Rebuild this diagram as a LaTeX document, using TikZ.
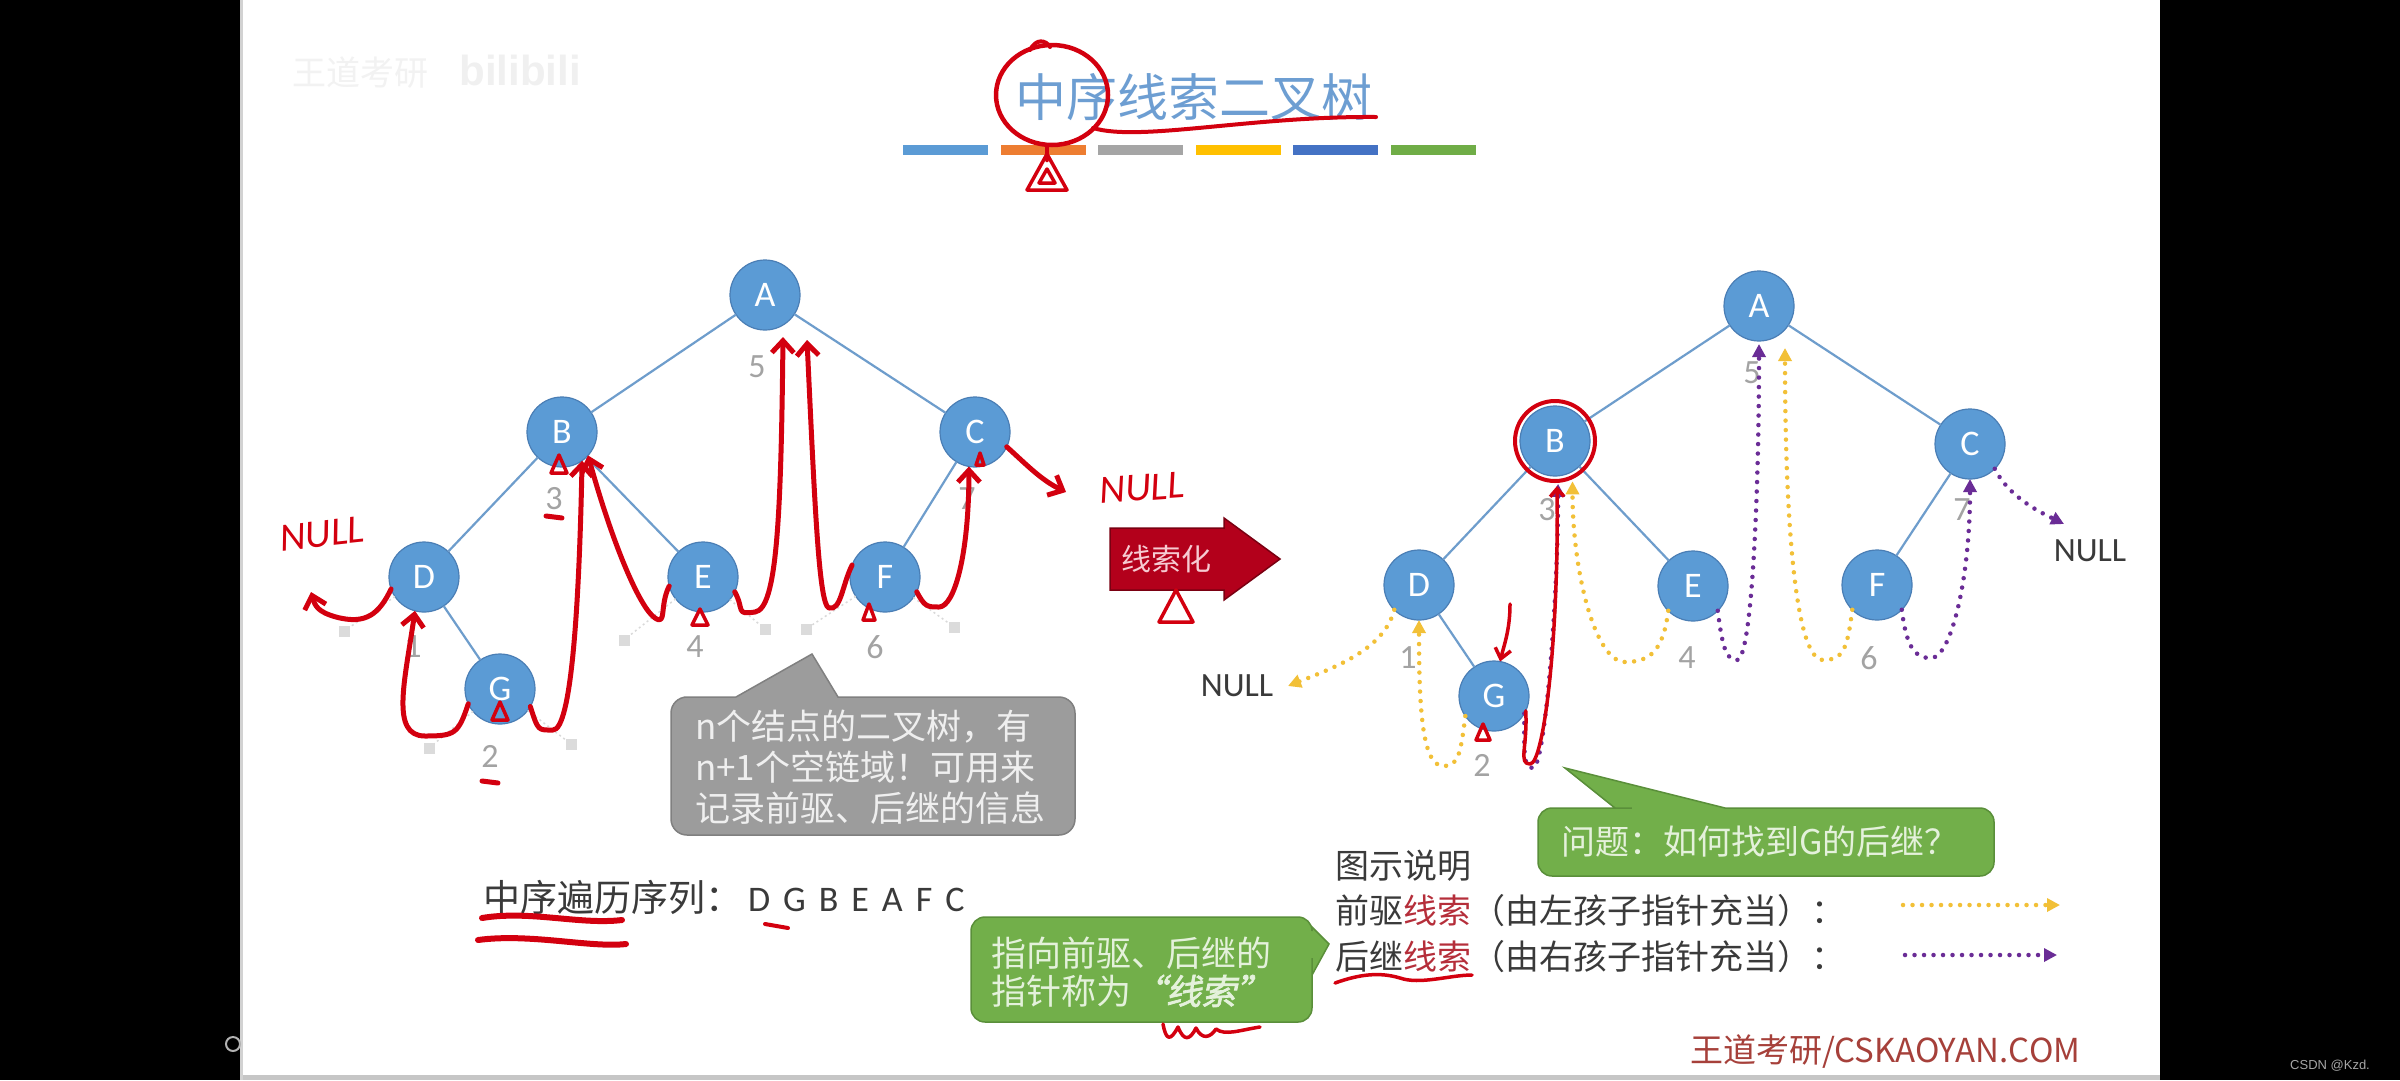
\documentclass[tikz,border=0pt]{standalone}
\usepackage{fontspec}
\setmainfont{Carlito}
\newfontfamily\cjk{Noto Sans CJK SC}
\newfontfamily\cjkbi[FakeSlant=0.22,FakeBold=2]{Noto Sans CJK SC}
\newfontfamily\sansf{Liberation Sans}
\usetikzlibrary{arrows.meta,calc}
\definecolor{nodeblue}{HTML}{5B9BD5}
\definecolor{nodeborder}{HTML}{4A7EB5}
\definecolor{edgeblue}{HTML}{6E9DCC}
\definecolor{labgray}{HTML}{A3A3A3}
\definecolor{thy}{HTML}{F2C037}
\definecolor{thp}{HTML}{6A2C96}
\definecolor{inkred}{HTML}{D3000F}
\definecolor{gfill}{HTML}{72AF4A}
\definecolor{gdraw}{HTML}{5A8F3A}
\definecolor{gtext}{HTML}{E4F1DB}
\definecolor{grfill}{HTML}{9C9C9C}
\definecolor{grdraw}{HTML}{808080}
\definecolor{grtext}{HTML}{EFEFEF}
\definecolor{titleblue}{HTML}{6D9ED2}
\definecolor{txt}{HTML}{3A3A3A}
\definecolor{xsred}{HTML}{B52E3A}
\definecolor{arrowred}{HTML}{B3001B}
\definecolor{arrowdark}{HTML}{7A0012}
\definecolor{arrowtxt}{HTML}{F6CBD2}
\definecolor{footred}{HTML}{A6403A}
\definecolor{barorange}{HTML}{ED7D31}
\definecolor{bargray}{HTML}{A5A5A5}
\definecolor{baryellow}{HTML}{FFC000}
\definecolor{barblue}{HTML}{4472C4}
\definecolor{bargreen}{HTML}{70AD47}
\newcommand\inktri[4]{\draw[inkline, line width=3.5pt] (#1,#2-#3) -- (#1-#4,#2+#3) -- (#1+#4,#2+#3) -- cycle;}
\begin{document}
\begin{tikzpicture}[x=1pt,y=-1pt,
  every node/.style={inner sep=0pt, outer sep=0pt},
  tnode/.style={circle, fill=nodeblue, draw=nodeborder, line width=1.2pt, minimum size=70pt, text=white, font=\fontsize{36}{36}\selectfont},
  treeedge/.style={draw=edgeblue, line width=2.2pt},
  lab/.style={text=labgray, font=\fontsize{34}{34}\selectfont},
  nullsq/.style={rectangle, fill=gray!28, minimum size=11pt},
  nullline/.style={draw=gray!30, line width=1.5pt, dash pattern=on 2pt off 3pt},
  ythread/.style={draw=thy, line width=4.5pt, line cap=round, dash pattern=on 0pt off 9.5pt, -{Triangle[length=13pt,width=13pt]}},
  pthread/.style={draw=thp, line width=4.5pt, line cap=round, dash pattern=on 0pt off 9.5pt, -{Triangle[length=13pt,width=13pt]}},
  inkline/.style={draw=inkred, line width=5pt, line cap=round, line join=round},
  barb/.style={-{Straight Barb[length=12pt,width=22pt]}},
  nulltxt/.style={text=txt, font=\fontsize{34}{34}\selectfont},
  inktxt/.style={text=inkred, font=\itshape\fontsize{40}{40}\selectfont},
  cjktxt/.style={text=txt, font=\cjk\fontsize{34}{34}\selectfont}
]
\useasboundingbox (0,0) rectangle (2400,1080);
\fill[black] (0,0) rectangle (2400,1080);
\fill[white] (240,0) rectangle (2160,1080);
\draw[gray!45, line width=5pt] (240,1077.5) -- (2160,1077.5);
\draw[gray!35, line width=3pt] (241.5,0) -- (241.5,1080);
% side bar items
\node[text=gray!70, font=\sansf\fontsize{13}{13}\selectfont] (csdn) at (2330,1066) {CSDN @Kzd.};
\draw[gray!60, line width=2pt] (233,1044) circle [radius=7];
% watermark
\node[text=gray!10, font=\cjk\fontsize{34}{34}\selectfont] (wm1) at (360,73) {王道考研};
\node[text=gray!12, font=\sansf\bfseries\fontsize{42}{42}\selectfont] (wm2) at (520,70) {bilibili};
% title
\node (title) at (1194,97) {\cjk\fontsize{51}{51}\selectfont\color{titleblue}中序线索二叉树};
\foreach \c [count=\i from 0] in {nodeblue,barorange,bargray,baryellow,barblue,bargreen}
  \fill[\c] ({903+\i*97.6},145) rectangle ++(85,10);

% ---------------- left tree
\node[tnode] (lA) at (765,295) {A};
\node[tnode] (lB) at (562,432) {B};
\node[tnode] (lC) at (975,432) {C};
\node[tnode] (lD) at (424,577) {D};
\node[tnode] (lE) at (703,577) {E};
\node[tnode] (lF) at (885,577) {F};
\node[tnode] (lG) at (500,689) {G};
\draw[treeedge] (lA) -- (lB);
\draw[treeedge] (lA) -- (lC);
\draw[treeedge] (lB) -- (lD);
\draw[treeedge] (lB) -- (lE);
\draw[treeedge] (lC) -- (lF);
\draw[treeedge] (lD) -- (lG);
\node[nullsq] (ns1) at (344,631) {};
\node[nullsq] (ns2) at (429,748) {};
\node[nullsq] (ns3) at (571,744) {};
\node[nullsq] (ns4) at (624,640) {};
\node[nullsq] (ns5) at (765,629) {};
\node[nullsq] (ns6) at (806,629) {};
\node[nullsq] (ns7) at (954,627) {};
\draw[nullline] (lD) -- (ns1);
\draw[nullline] (lG) -- (ns2);
\draw[nullline] (lG) -- (ns3);
\draw[nullline] (lE) -- (ns4);
\draw[nullline] (lE) -- (ns5);
\draw[nullline] (lF) -- (ns6);
\draw[nullline] (lF) -- (ns7);
\node[lab] (l5) at (757,367) {5};
\node[lab] (l3) at (554,499) {3};
\node[lab] (l1) at (413,647) {1};
\node[lab] (l2) at (490,756) {2};
\node[lab] (l4) at (695,647) {4};
\node[lab] (l6) at (875,647) {6};
\node[lab] (l7) at (967,499) {7};

% gray callout
\path[fill=grfill, draw=grdraw, line width=1.5pt] (700,697) -- (736,697) -- (812,654) -- (838,697) [rounded corners=16pt] -- (1075,697) -- (1075,835) -- (671,835) -- (671,697) -- cycle;
\node[align=left, text=grtext, font=\cjk\fontsize{35}{41}\selectfont] (gtxt) at (870,767) {n个结点的二叉树，有\\n+1个空链域！可用来\\记录前驱、后继的信息};

% sequence text
\node[anchor=west, text=txt] (seq) at (483,897) {{\cjk\fontsize{37}{37}\selectfont 中序遍历序列：}\hspace{6pt}{\fontsize{36}{36}\selectfont D\hspace{13pt}G\hspace{13pt}B\hspace{13pt}E\hspace{13pt}A\hspace{13pt}F\hspace{13pt}C}};

% big arrow
\path[fill=arrowred, draw=arrowdark, line width=1.5pt] (1110,528) -- (1224,528) -- (1224,518) -- (1280,559) -- (1224,600) -- (1224,590) -- (1110,590) -- cycle;
\node[text=arrowtxt, font=\cjk\fontsize{30}{30}\selectfont] (xsh) at (1166,559) {线索化};

% ---------------- right tree
\node[tnode] (rA) at (1759,306) {A};
\node[tnode] (rB) at (1555,441) {B};
\node[tnode] (rC) at (1970,444) {C};
\node[tnode] (rD) at (1419,585) {D};
\node[tnode] (rE) at (1693,586) {E};
\node[tnode] (rF) at (1877,585) {F};
\node[tnode] (rG) at (1494,696) {G};
\draw[treeedge] (rA) -- (rB);
\draw[treeedge] (rA) -- (rC);
\draw[treeedge] (rB) -- (rD);
\draw[treeedge] (rB) -- (rE);
\draw[treeedge] (rC) -- (rF);
\draw[treeedge] (rD) -- (rG);
\node[lab] (r5) at (1752,373) {5};
\node[lab] (r3) at (1547,510) {3};
\node[lab] (r1) at (1408,658) {1};
\node[lab] (r2) at (1482,765) {2};
\node[lab] (r4) at (1687,658) {4};
\node[lab] (r6) at (1869,658) {6};
\node[lab] (r7) at (1962,510) {7};
\node[nulltxt] (rnull1) at (1237,686) {NULL};
\node[nulltxt] (rnull2) at (2090,551) {NULL};
% predecessor threads
\draw[ythread] (rD.225) .. controls +(-10,40) and +(45,-18) .. (1288,686);
\draw[ythread] (rG.215) .. controls +(-5,40) and +(15,0) .. (1443,766) .. controls +(-22,0) and +(0,80) .. (rD.south);
\draw[ythread, shorten >=10pt] (rE.225) .. controls +(-5,40) and +(25,0) .. (1625,662) .. controls +(-30,0) and +(0,100) .. (rB.300);
\draw[ythread] (rF.225) .. controls +(-5,40) and +(20,0) .. (1823,660) .. controls +(-30,0) and +(0,150) .. ($(rA)+(26,42)$);
% successor threads
\draw[pthread, shorten >=8pt] (rG.330) .. controls +(0,40) and +(-10,0) .. (1533,768) .. controls +(12,0) and +(0,120) .. (rB.275);
\draw[pthread, shorten >=3pt] (rE.315) .. controls +(5,40) and +(-10,0) .. (1737,660) .. controls +(15,0) and +(0,150) .. (rA.south);
\draw[pthread] (rF.315) .. controls +(5,40) and +(-15,0) .. (1931,658) .. controls +(20,0) and +(0,100) .. (rC.south);
\draw[pthread] (rC.315) .. controls +(15,30) and +(-20,-10) .. (2064,524);

% green callout 1
\path[fill=gfill, draw=gdraw, line width=1.5pt] (1640,808) -- (1615,808) -- (1565,768) -- (1725,808) [rounded corners=14pt] -- (1994,808) -- (1994,876) -- (1538,876) -- (1538,808) -- cycle;
\node[text=gtext, font=\cjk\fontsize{34}{34}\selectfont] (q) at (1760,842) {问题：如何找到G的后继？};

% green callout 2
\path[fill=gfill, draw=gdraw, line width=1.5pt] (1312,950) -- (1312,975) -- (1329,944) -- (1312,927) [rounded corners=14pt] -- (1312,917) -- (971,917) -- (971,1022) -- (1312,1022) -- (1312,975) -- cycle;
\node[align=left, text=gtext, font=\cjk\fontsize{35}{38}\selectfont] (g2) at (1131,972) {指向前驱、后继的\\指针称为{\cjkbi “线索”}};

% legend
\node[cjktxt, anchor=west] (leg0) at (1335,866) {图示说明};
\node[cjktxt, anchor=west] (leg1) at (1335,911) {前驱{\color{xsred}线索}（由左孩子指针充当）：};
\node[cjktxt, anchor=west] (leg2) at (1335,957) {后继{\color{xsred}线索}（由右孩子指针充当）：};
\coordinate (ly1) at (1903,905);
\coordinate (ly2) at (2060,905);
\coordinate (lp1) at (1905,955);
\coordinate (lp2) at (2057,955);
\draw[ythread] (ly1) -- (ly2);
\draw[pthread] (lp1) -- (lp2);

% footer
\node[anchor=west, text=footred, font=\cjk\fontsize{33}{33}\selectfont] (foot) at (1690,1052) {王道考研/CSKAOYAN.COM};

% ---------------- red handwriting
\draw[inkline, line width=4.5pt] (1052,95) ellipse [x radius=56, y radius=50];
\draw[inkline, line width=4pt] (1030,50) .. controls (1036,38) and (1046,40) .. (1050,47);
\draw[inkline, line width=4.5pt] (1047,147) -- (1047,160);
\inktri{1047}{172}{18}{20}
\inktri{1047}{176}{7}{8}
\draw[inkline, line width=4pt] (1093,128) .. controls (1140,142) and (1250,116) .. (1376,117);
\node[inktxt, rotate=6] (lnull) at (322,534) {NULL};
\node[inktxt, rotate=4] (cnull) at (1142,488) {NULL};
\draw[inkline, barb] (lD.200) .. controls +(-12,25) and +(30,8) .. (336,617) .. controls +(-18,-5) and +(4,14) .. (311,592);
\draw[inkline, barb] (lG.205) .. controls +(-10,30) and +(30,0) .. (425,736) .. controls +(-35,0) and +(-10,70) .. (lD.255);
\draw[inkline, barb] (lG.330) .. controls +(8,25) and +(-15,0) .. (553,730) .. controls +(18,0) and +(-3,150) .. (lB.305);
\draw[inkline, barb] (lE.195) .. controls +(-10,20) and +(12,8) .. (655,618) .. controls +(-15,-10) and +(25,90) .. (lB.318);
\draw[inkline, barb] (lE.335) .. controls +(10,18) and +(-20,3) .. (755,612) .. controls +(22,-3) and +(-2,180) .. ($(lA)+(18,42)$);
\draw[inkline, barb] (lF.160) .. controls +(-10,20) and +(12,3) .. (829,608) .. controls +(-10,-3) and +(8,170) .. ($(lA)+(42,45)$);
\draw[inkline, barb] (lF.335) .. controls +(8,15) and +(-12,0) .. (939,607) .. controls +(15,0) and +(0,90) .. (lC.260);
\draw[inkline, barb] (lC.335) .. controls +(20,18) and +(-25,-12) .. (1066,492);
\inktri{559}{464}{9}{8}
\inktri{700}{617}{8}{8}
\inktri{869}{612}{8}{6}
\inktri{980}{459}{6}{4}
\inktri{500}{711}{9}{8}
\draw[inkline] (546,516) -- (562,518);
\draw[inkline] (482,781) -- (498,783);
\inktri{1176}{606}{16}{17}
% right tree ink
\draw[inkline, line width=4pt] (rB) circle [radius=40];
\draw[inkline, line width=3.5pt, -{Straight Barb[length=8pt,width=14pt]}] (rG.335) .. controls +(2,35) and +(-12,0) .. (1530,764) .. controls +(14,0) and +(2,150) .. (1557,486);
\draw[inkline, line width=3.5pt, -{Straight Barb[length=10pt,width=16pt]}] (1510,604) .. controls (1510,630) and (1504,645) .. (rG.80);
\inktri{1483}{732}{8}{7}
% bottom ink
\draw[inkline, line width=6pt] (482,918) .. controls (530,910) and (580,925) .. (622,920);
\draw[inkline, line width=6pt] (478,940) .. controls (530,933) and (590,948) .. (626,944);
\draw[inkline, line width=4pt] (765,924) -- (788,928);
\draw[inkline, line width=3.5pt] (1163,1024) .. controls (1166,1040) and (1170,1042) .. (1178,1027) .. controls (1184,1042) and (1190,1040) .. (1196,1028) .. controls (1202,1040) and (1210,1038) .. (1216,1029) .. controls (1225,1036) and (1240,1030) .. (1260,1027);
\draw[inkline, line width=3.5pt] (1335,983) .. controls (1360,974) and (1380,972) .. (1400,978) .. controls (1420,985) and (1450,975) .. (1472,975);
\end{tikzpicture}
\end{document}
